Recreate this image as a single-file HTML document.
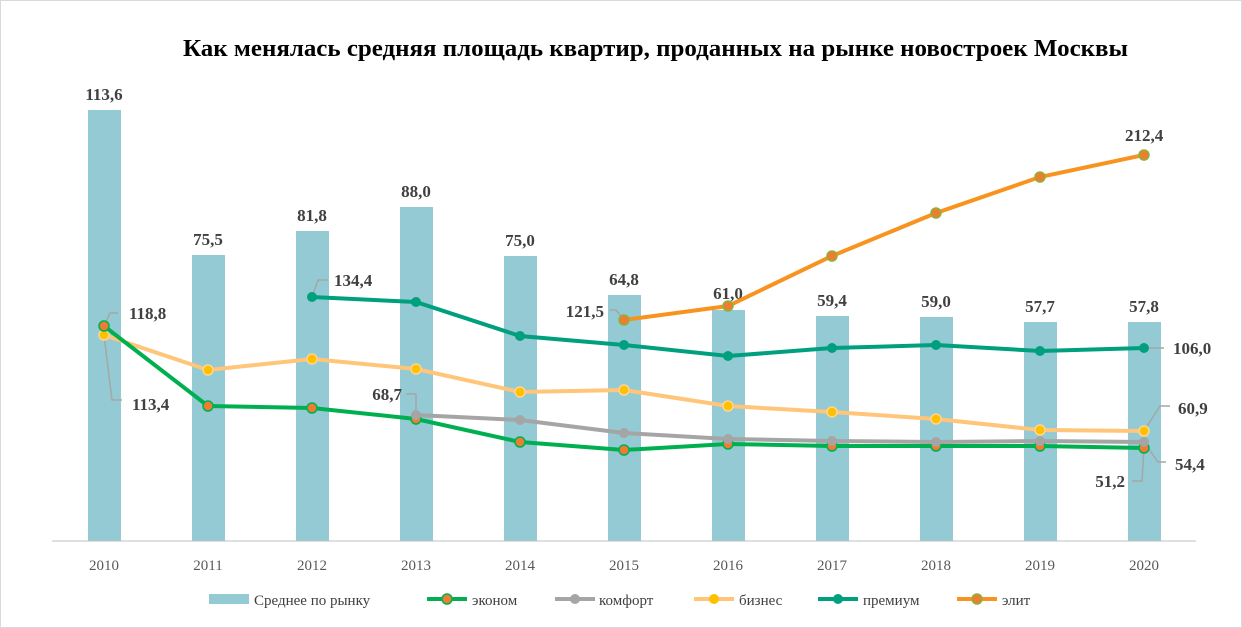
<!DOCTYPE html>
<html><head><meta charset="utf-8"><style>
body{margin:0;background:#fff}
svg{display:block;font-family:"Liberation Serif",serif}
.v{font-weight:bold;font-size:17px;fill:#404040}
.t{font-size:15px;fill:#595959}
.l{font-size:15px;fill:#404040}
</style></head><body>
<svg width="1242" height="628" viewBox="0 0 1242 628">
<rect x="0.5" y="0.5" width="1241" height="627" fill="#fff" stroke="#d9d9d9"/>
<text x="183" y="56" textLength="945" lengthAdjust="spacingAndGlyphs" font-weight="bold" font-size="24" fill="#000">Как менялась средняя площадь квартир, проданных на рынке новостроек  Москвы</text>
<g fill="#93CAD4">
<rect x="88" y="110" width="33" height="431"/>
<rect x="192" y="255" width="33" height="286"/>
<rect x="296" y="231" width="33" height="310"/>
<rect x="400" y="207" width="33" height="334"/>
<rect x="504" y="256" width="33" height="285"/>
<rect x="608" y="295" width="33" height="246"/>
<rect x="712" y="310" width="33" height="231"/>
<rect x="816" y="316" width="33" height="225"/>
<rect x="920" y="317" width="33" height="224"/>
<rect x="1024" y="322" width="33" height="219"/>
<rect x="1128" y="322" width="33" height="219"/>
</g>
<line x1="52" y1="541" x2="1196" y2="541" stroke="#bfbfbf"/>
<g class="v" text-anchor="middle">
<text x="104" y="100">113,6</text><text x="208" y="245">75,5</text><text x="312" y="221">81,8</text>
<text x="416" y="197">88,0</text><text x="520" y="246">75,0</text><text x="624" y="285">64,8</text>
<text x="728" y="299">61,0</text><text x="832" y="306">59,4</text><text x="936" y="307">59,0</text>
<text x="1040" y="312">57,7</text><text x="1144" y="312">57,8</text>
</g>
<g fill="none" stroke="#a6a6a6" stroke-width="1.5">
<polyline points="104,326 110,313 118,313"/>
<polyline points="104,335 112,400 122,400"/>
<polyline points="312,297 318,280 328,280"/>
<polyline points="416,415 416,394 406,394"/>
<polyline points="624,320 616,310 610,310"/>
<polyline points="1144,348 1164,348"/>
<polyline points="1144,431 1160,406 1170,406"/>
<polyline points="1144,442 1158,462 1166,462"/>
<polyline points="1144,448 1142,481 1132,481"/>
</g>
<polyline fill="none" stroke="#00A07F" stroke-width="4" points="312,297 416,302 520,336 624,345 728,356 832,348 936,345 1040,351 1144,348"/>
<g fill="#00A07F"><circle cx="312" cy="297" r="5"/><circle cx="416" cy="302" r="5"/><circle cx="520" cy="336" r="5"/><circle cx="624" cy="345" r="5"/><circle cx="728" cy="356" r="5"/><circle cx="832" cy="348" r="5"/><circle cx="936" cy="345" r="5"/><circle cx="1040" cy="351" r="5"/><circle cx="1144" cy="348" r="5"/></g>
<polyline fill="none" stroke="#FFC579" stroke-width="4" points="104,335 208,370 312,359 416,369 520,392 624,390 728,406 832,412 936,419 1040,430 1144,431"/>
<g fill="#FFC000" stroke="#FFD591" stroke-width="1.5"><circle cx="104" cy="335" r="5"/><circle cx="208" cy="370" r="5"/><circle cx="312" cy="359" r="5"/><circle cx="416" cy="369" r="5"/><circle cx="520" cy="392" r="5"/><circle cx="624" cy="390" r="5"/><circle cx="728" cy="406" r="5"/><circle cx="832" cy="412" r="5"/><circle cx="936" cy="419" r="5"/><circle cx="1040" cy="430" r="5"/><circle cx="1144" cy="431" r="5"/></g>
<polyline fill="none" stroke="#00B050" stroke-width="4" points="104,326 208,406 312,408 416,419 520,442 624,450 728,444 832,446 936,446 1040,446 1144,448"/>
<g fill="#ED7D31" stroke="#00B050" stroke-width="1.5"><circle cx="104" cy="326" r="5"/><circle cx="208" cy="406" r="5"/><circle cx="312" cy="408" r="5"/><circle cx="416" cy="419" r="5"/><circle cx="520" cy="442" r="5"/><circle cx="624" cy="450" r="5"/><circle cx="728" cy="444" r="5"/><circle cx="832" cy="446" r="5"/><circle cx="936" cy="446" r="5"/><circle cx="1040" cy="446" r="5"/><circle cx="1144" cy="448" r="5"/></g>
<polyline fill="none" stroke="#A5A5A5" stroke-width="4" points="416,415 520,420 624,433 728,439 832,441 936,442 1040,441 1144,442"/>
<g fill="#A5A5A5"><circle cx="416" cy="415" r="5"/><circle cx="520" cy="420" r="5"/><circle cx="624" cy="433" r="5"/><circle cx="728" cy="439" r="5"/><circle cx="832" cy="441" r="5"/><circle cx="936" cy="442" r="5"/><circle cx="1040" cy="441" r="5"/><circle cx="1144" cy="442" r="5"/></g>
<polyline fill="none" stroke="#F7931E" stroke-width="4" points="624,320 728,306 832,256 936,213 1040,177 1144,155"/>
<g fill="#ED7D31" stroke="#8DB33A" stroke-width="1.5"><circle cx="624" cy="320" r="5"/><circle cx="728" cy="306" r="5"/><circle cx="832" cy="256" r="5"/><circle cx="936" cy="213" r="5"/><circle cx="1040" cy="177" r="5"/><circle cx="1144" cy="155" r="5"/></g>
<g class="v">
<text x="129" y="319">118,8</text><text x="132" y="410">113,4</text><text x="334" y="286">134,4</text>
<text x="402" y="400" text-anchor="end">68,7</text><text x="604" y="317" text-anchor="end">121,5</text>
<text x="1173" y="354">106,0</text><text x="1178" y="414">60,9</text><text x="1175" y="470">54,4</text>
<text x="1125" y="487" text-anchor="end">51,2</text><text x="1125" y="141">212,4</text>
</g>
<g class="t" text-anchor="middle">
<text x="104" y="570">2010</text><text x="208" y="570">2011</text><text x="312" y="570">2012</text><text x="416" y="570">2013</text><text x="520" y="570">2014</text><text x="624" y="570">2015</text><text x="728" y="570">2016</text><text x="832" y="570">2017</text><text x="936" y="570">2018</text><text x="1040" y="570">2019</text><text x="1144" y="570">2020</text>
</g>
<g class="l">
<rect x="209" y="594" width="40" height="10" fill="#93CAD4"/><text x="254" y="605">Среднее по рынку</text>
<line x1="427" y1="599" x2="467" y2="599" stroke="#00B050" stroke-width="4"/><circle cx="447" cy="599" r="5" fill="#ED7D31" stroke="#00B050" stroke-width="1.5"/><text x="472" y="605">эконом</text>
<line x1="555" y1="599" x2="595" y2="599" stroke="#A5A5A5" stroke-width="4"/><circle cx="575" cy="599" r="5" fill="#A5A5A5"/><text x="599" y="605">комфорт</text>
<line x1="694" y1="599" x2="734" y2="599" stroke="#FFC579" stroke-width="4"/><circle cx="714" cy="599" r="5" fill="#FFC000"/><text x="739" y="605">бизнес</text>
<line x1="818" y1="599" x2="858" y2="599" stroke="#00A07F" stroke-width="4"/><circle cx="838" cy="599" r="5" fill="#00A07F"/><text x="863" y="605">премиум</text>
<line x1="957" y1="599" x2="997" y2="599" stroke="#F7931E" stroke-width="4"/><circle cx="977" cy="599" r="5" fill="#ED7D31" stroke="#8DB33A" stroke-width="1.5"/><text x="1002" y="605">элит</text>
</g>
</svg>
</body></html>
